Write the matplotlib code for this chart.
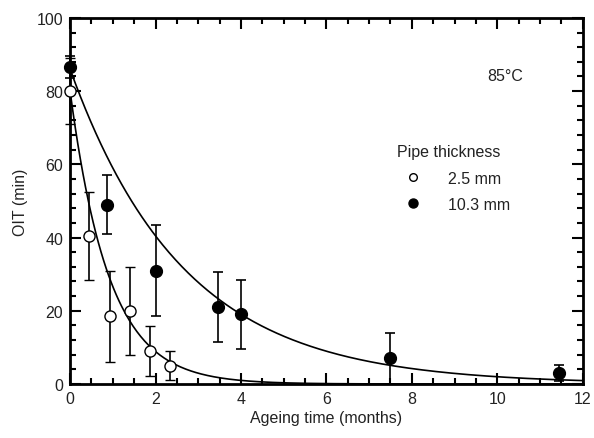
import numpy as np
import matplotlib
matplotlib.use('Agg')
import matplotlib.pyplot as plt
from matplotlib.lines import Line2D
from matplotlib.ticker import MultipleLocator

plt.rcParams['font.family'] = ['Liberation Sans', 'DejaVu Sans']

# 2.5 mm pipe (open circles)
t_thin = [0.0, 0.45, 0.94, 1.4, 1.87, 2.34]
oit_thin = [80.0, 40.5, 18.5, 20.0, 9.0, 5.0]
err_thin = [9.0, 12.0, 12.5, 12.0, 6.8, 4.0]

# 10.3 mm pipe (filled circles)
t_thick = [0.0, 0.87, 2.0, 3.47, 3.99, 7.5, 11.45]
oit_thick = [86.5, 49.0, 31.0, 21.0, 19.0, 7.0, 3.0]
err_thick = [3.0, 8.0, 12.3, 9.5, 9.5, 7.0, 2.3]

# exponential fits OIT = OIT0 * exp(-k t)
fit_thin = (80.0, 1.1)
fit_thick = (86.0, 0.377)

fig = plt.figure(figsize=(5.94, 4.39), dpi=100)
ax = fig.add_axes([0.118, 0.123, 0.863, 0.834])

tt = np.linspace(0, 12, 400)
ax.plot(tt, fit_thin[0] * np.exp(-fit_thin[1] * tt), color='black', lw=1.2, zorder=2)
ax.plot(tt, fit_thick[0] * np.exp(-fit_thick[1] * tt), color='black', lw=1.2, zorder=2)

ax.errorbar(t_thin, oit_thin, yerr=err_thin, fmt='o', ms=8, mfc='white', mec='black',
            mew=1.0, ecolor='black', elinewidth=1.2, capsize=3.8, capthick=1.2, zorder=3,
            clip_on=False)
ax.errorbar(t_thick, oit_thick, yerr=err_thick, fmt='o', ms=8.5, mfc='black', mec='black',
            ecolor='black', elinewidth=1.2, capsize=3.8, capthick=1.2, zorder=3,
            clip_on=False)

ax.set_xlim(0, 12)
ax.set_ylim(0, 100)
ax.xaxis.set_major_locator(MultipleLocator(2))
ax.xaxis.set_minor_locator(MultipleLocator(0.5))
ax.yaxis.set_major_locator(MultipleLocator(20))
ax.yaxis.set_minor_locator(MultipleLocator(4))
ax.tick_params(which='both', direction='in', top=True, right=True, labelsize=11.5, width=1.5,
               labelcolor='#222222')
ax.tick_params(which='major', length=8, pad=5)
ax.tick_params(which='minor', length=4.5)
for s in ax.spines.values():
    s.set_linewidth(2)

ax.set_xlabel('Ageing time (months)', fontsize=11.5, labelpad=3, color='#222222')
ax.set_ylabel('OIT (min)', fontsize=11.5, labelpad=6, color='#222222')

fig.text(505 / 594, 1 - 77 / 439, '85\u00b0C', fontsize=11.5, ha='center', va='center',
         color='#222222')

handles = [Line2D([], [], ls='none', marker='o', ms=5.5, mfc='white', mec='black'),
           Line2D([], [], ls='none', marker='o', ms=6.5, mfc='black', mec='black')]
leg = ax.legend(handles, ['2.5 mm', '10.3 mm'], title='Pipe thickness', frameon=False,
                fontsize=11.5, title_fontsize=11.5, alignment='left',
                loc='upper left', bbox_to_anchor=(0.625, 0.672), handletextpad=1.2,
                labelspacing=0.7, borderaxespad=0, labelcolor='#222222')
leg.get_title().set_color('#222222')

fig.savefig('out.png', dpi=100)
